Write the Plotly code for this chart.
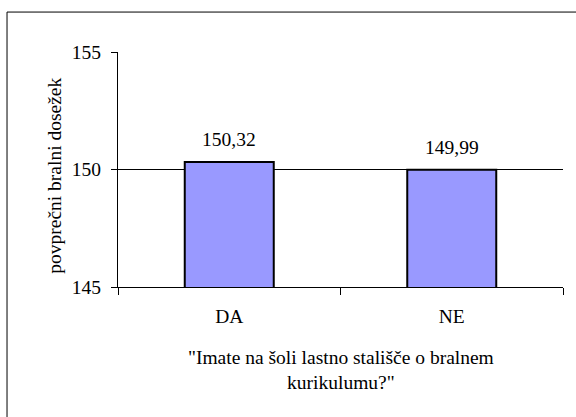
import plotly.graph_objects as go

categories = ["DA", "NE"]
values = [150.32, 149.99]
y_ticks = [145, 150, 155]
x_title = "\"Imate na šoli lastno stališče o bralnem<br>kurikulumu?\""
y_title = "povprečni bralni dosežek"

FONT = "Liberation Serif, Times New Roman, serif"
FS = 19.5
fig = go.Figure()
fig.add_trace(go.Bar(
    x=categories, y=values,
    marker=dict(color="#9999FF", line=dict(color="black", width=2)),
    width=0.4,
))
for c, v in zip(categories, values):
    fig.add_annotation(x=c, y=v, xref="x", yref="y",
                       text=f"{v:.2f}".replace(".", ","), showarrow=False,
                       yanchor="bottom", yshift=10,
                       font=dict(family=FONT, size=FS, color="black"))
fig.add_annotation(x=0.5, y=-0.245, xref="paper", yref="paper",
                   text=x_title, showarrow=False, yanchor="top", xanchor="center",
                   font=dict(family=FONT, size=FS, color="black"))
fig.add_annotation(x=-0.143, y=0.475, xref="paper", yref="paper",
                   text=y_title, showarrow=False, textangle=-90,
                   xanchor="center", yanchor="middle",
                   font=dict(family=FONT, size=FS, color="black"))
# outer border
fig.add_shape(type="rect", xref="paper", yref="paper",
              x0=-0.2494, x1=1.04, y0=-0.57, y1=1.17,
              line=dict(color="black", width=1))
fig.update_layout(
    width=576, height=417,
    margin=dict(l=118, r=13, t=52, b=130),
    paper_bgcolor="white", plot_bgcolor="white",
    showlegend=False,
    font=dict(family=FONT, size=FS, color="black"),
    bargap=0.6,
)
fig.update_xaxes(showline=True, linecolor="black", linewidth=1,
                 ticks="outside", tickson="boundaries", ticklen=7,
                 tickcolor="black", ticklabelstandoff=12,
                 showgrid=False, range=[-0.5, 1.5])
fig.update_yaxes(range=[145, 155], tickvals=y_ticks, showline=True,
                 linecolor="black", linewidth=1, ticks="outside", ticklen=6,
                 tickcolor="black", showgrid=True, gridcolor="black",
                 gridwidth=1, zeroline=False, ticklabelstandoff=6)
fig.write_html("out.html", config={"displayModeBar": False},
               post_script="document.body.style.margin='0';document.body.style.overflow='hidden';")
